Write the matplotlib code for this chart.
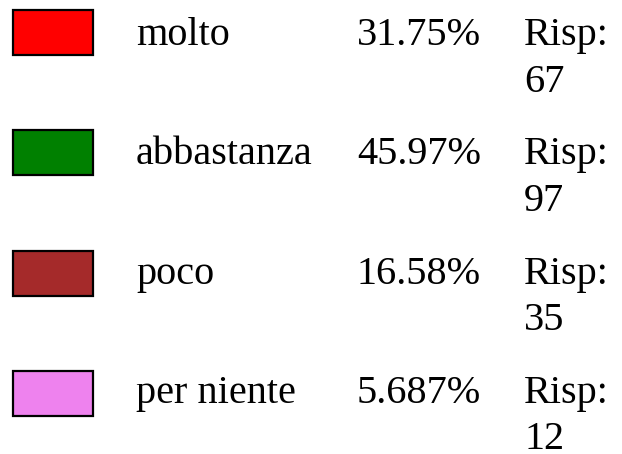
import matplotlib.pyplot as plt
from matplotlib.patches import Rectangle

labels = ["molto", "abbastanza", "poco", "per niente"]
percents = ["31.75%", "45.97%", "16.58%", "5.687%"]
counts = [67, 97, 35, 12]
colors = ["#ff0000", "#008000", "#a52a2a", "#ee82ee"]

plt.rcParams['font.family'] = ['Liberation Serif', 'DejaVu Serif']

fig = plt.figure(figsize=(6.22, 4.54), dpi=100)
ax = fig.add_axes([0, 0, 1, 1])
ax.set_xlim(0, 622)
ax.set_ylim(454, 0)
ax.axis('off')

fs = 29
for i, (lab, pct, n, c) in enumerate(zip(labels, percents, counts, colors)):
    y0 = 10 + i * 120.3
    ax.add_patch(Rectangle((13, y0), 80, 45, facecolor=c, edgecolor='black', linewidth=1.6))
    base = 45 + i * 119.3
    ax.text(136, base, lab, fontsize=fs, va='baseline', ha='left')
    ax.text(357, base, pct, fontsize=fs, va='baseline', ha='left')
    ax.text(524, base, "Risp:", fontsize=fs, va='baseline', ha='left')
    ax.text(524, base + 46.5, str(n), fontsize=fs, va='baseline', ha='left')

fig.savefig("out.png", dpi=100)
